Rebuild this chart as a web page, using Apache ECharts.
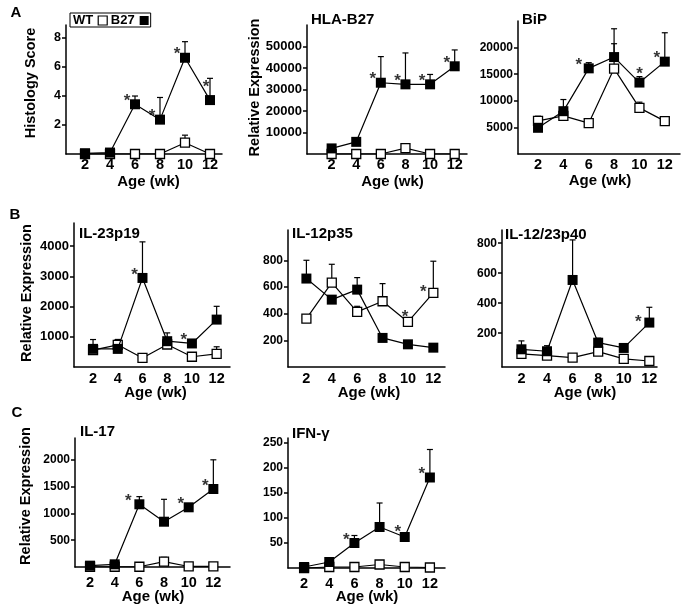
<!DOCTYPE html>
<html><head><meta charset="utf-8">
<script src="https://cdn.jsdelivr.net/npm/echarts@6/dist/echarts.min.js"></script>
<style>html,body{margin:0;padding:0;background:#fff}#c{width:681px;height:614px}</style>
</head><body><div id="c"></div>
<script>
// ---------- data ----------
const ages = [2, 4, 6, 8, 10, 12];
const xTickLabels = [2, 4, 6, 8, 10, 12];

// A: Histology score
const histWT = [0, 0, 0, 0, 0.78, 0];
const histWTErr = [0, 0, 0, 0, 0.52, 0];
const histB27 = [0.05, 0.1, 3.43, 2.37, 6.64, 3.72];
const histB27Err = [0, 0, 0.57, 1.53, 1.11, 1.5];
const histTicks = [2, 4, 6, 8];
const histStarsB27 = [6, 8, 10, 12];

// A: HLA-B27
const hlaWT = [0, 0, 0, 2700, 0, 0];
const hlaWTErr = [0, 0, 0, 1700, 0, 0];
const hlaB27 = [2600, 5650, 33150, 32400, 32400, 40800];
const hlaB27Err = [0, 0, 12150, 14600, 4600, 7600];
const hlaTicks = [10000, 20000, 30000, 40000, 50000];
const hlaStarsB27 = [6, 8, 10, 12];

// A: BiP
const bipWT = [6240, 7170, 5800, 16050, 8670, 6180];
const bipWTErr = [860, 0, 0, 4680, 1070, 0];
const bipB27 = [4925, 8050, 16100, 18220, 13430, 17360];
const bipB27Err = [0, 2190, 1070, 5320, 1120, 5430];
const bipTicks = [5000, 10000, 15000, 20000];
const bipStarsB27 = [6, 10, 12];

// B: IL-23p19
const p19WT = [560, 735, 300, 745, 340, 437];
const p19WTErr = [0, 175, 0, 0, 0, 233];
const p19B27 = [600, 600, 2950, 855, 780, 1570];
const p19B27Err = [310, 310, 1195, 275, 0, 440];
const p19Ticks = [1000, 2000, 3000, 4000];
const p19StarsB27 = [6, 10];

// B: IL-12p35
const p35WT = [363, 633, 413, 493, 338, 555];
const p35WTErr = [30, 137, 42, 132, 20, 238];
const p35B27 = [663, 505, 580, 218, 170, 145];
const p35B27Err = [137, 0, 90, 0, 0, 0];
const p35Ticks = [200, 400, 600, 800];
const p35StarsWT = [10, 12];

// B: IL-12/23p40
const p40WT = [62, 51, 37, 77, 29, 15];
const p40WTErr = [0, 0, 0, 0, 0, 0];
const p40B27 = [93, 80, 555, 137, 102, 271];
const p40B27Err = [56, 37, 267, 30, 0, 102];
const p40Ticks = [200, 400, 600, 800];
const p40StarsB27 = [12];

// C: IL-17
const il17WT = [5, 5, 5, 100, 10, 10];
const il17WTErr = [0, 0, 0, 80, 0, 0];
const il17B27 = [25, 50, 1170, 845, 1114, 1455];
const il17B27Err = [0, 0, 143, 418, 0, 545];
const il17Ticks = [500, 1000, 1500, 2000];
const il17StarsB27 = [6, 10, 12];

// C: IFN-gamma
const ifnWT = [0, 2, 2, 7, 2, 1];
const ifnWTErr = [0, 0, 0, 3, 0, 0];
const ifnB27 = [2, 12, 50, 82, 62, 181];
const ifnB27Err = [0, 0, 15, 48, 0, 56];
const ifnTicks = [50, 100, 150, 200, 250];
const ifnStarsB27 = [6, 10, 12];

// ---------- layout / style ----------
const FONT = '"Liberation Sans", Arial, Helvetica, sans-serif';
const panels = [
  {g:{left:66,top:25,width:156,height:129}, x:[0.48,12.96], y:[0,8.9], ticks:histTicks,
   wt:histWT, wtErr:histWTErr, b27:histB27, b27Err:histB27Err, stars:{B27:histStarsB27}, yFs:12.5, xm:3,
   starOff:{12:[-4,-17]}},
  {g:{left:307,top:25,width:160,height:129}, x:[0,13], y:[0,60000], ticks:hlaTicks,
   wt:hlaWT, wtErr:hlaWTErr, b27:hlaB27, b27Err:hlaB27Err, stars:{B27:hlaStarsB27}, yFs:13, xm:3, starOff:{}},
  {g:{left:518,top:21,width:162,height:133}, x:[0.42,13.2], y:[0,25000], ticks:bipTicks,
   wt:bipWT, wtErr:bipWTErr, b27:bipB27, b27Err:bipB27Err, stars:{B27:bipStarsB27}, yFs:12, xm:3,
   starOff:{6:[-10,-7],10:[0,-12]}},
  {g:{left:74,top:223,width:156,height:144}, x:[0.46,13.08], y:[0,4770], ticks:p19Ticks,
   wt:p19WT, wtErr:p19WTErr, b27:p19B27, b27Err:p19B27Err, stars:{B27:p19StarsB27}, yFs:13, xm:4.5, starOff:{}},
  {g:{left:288,top:230,width:157,height:137}, x:[0.55,12.92], y:[0,1027], ticks:p35Ticks,
   wt:p35WT, wtErr:p35WTErr, b27:p35B27, b27Err:p35B27Err, stars:{WT:p35StarsWT}, yFs:12, xm:4.5,
   starOff:{10:[-3,-9],12:[-10,-5]}},
  {g:{left:502,top:230,width:155,height:137}, x:[0.48,12.6], y:[-25,888], ticks:p40Ticks,
   wt:p40WT, wtErr:p40WTErr, b27:p40B27, b27Err:p40B27Err, stars:{B27:p40StarsB27}, yFs:12, xm:4.5,
   starOff:{12:[-11,-4]}},
  {g:{left:75,top:438,width:155,height:129}, x:[0.78,13.35], y:[0,2407], ticks:il17Ticks,
   wt:il17WT, wtErr:il17WTErr, b27:il17B27, b27Err:il17B27Err, stars:{B27:il17StarsB27}, yFs:12, xm:8.5,
   starOff:{6:[-11,-7]}},
  {g:{left:288,top:438,width:157,height:130}, x:[0.72,13.2], y:[0,260], ticks:ifnTicks,
   wt:ifnWT, wtErr:ifnWTErr, b27:ifnB27, b27Err:ifnB27Err, stars:{B27:ifnStarsB27}, yFs:12, xm:8.5,
   starOff:{10:[-7,-9]}}
];

function errRender(params, api) {
  const x = api.value(0), y = api.value(1), top = api.value(2);
  if (!(top > y)) return null;
  const p0 = api.coord([x, y]), p1 = api.coord([x, top]);
  const st = {stroke: '#000', lineWidth: 1.2};
  return {type: 'group', children: [
    {type: 'line', shape: {x1: p0[0], y1: p0[1], x2: p1[0], y2: p1[1]}, style: st},
    {type: 'line', shape: {x1: p1[0] - 3, y1: p1[1], x2: p1[0] + 3, y2: p1[1]}, style: st}
  ]};
}

const grid = [], xAxis = [], yAxis = [], series = [];
panels.forEach((p, i) => {
  grid.push(Object.assign({containLabel: false}, p.g));
  xAxis.push({
    type: 'value', gridIndex: i, min: p.x[0], max: p.x[1],
    axisLine: {show: true, onZero: false, lineStyle: {color: '#000', width: 1.5}},
    axisTick: {show: false},
    splitLine: {show: false},
    axisLabel: {customValues: xTickLabels, margin: p.xm, color: '#000',
      fontFamily: FONT, fontWeight: 'bold', fontSize: 14.5, formatter: v => String(v)}
  });
  yAxis.push({
    type: 'value', gridIndex: i, min: p.y[0], max: p.y[1],
    axisLine: {show: true, onZero: false, lineStyle: {color: '#000', width: 1.5}},
    axisTick: {show: true, customValues: p.ticks, length: 4, lineStyle: {color: '#000', width: 1.5}},
    splitLine: {show: false},
    axisLabel: {customValues: p.ticks, margin: 5, color: '#000',
      fontFamily: FONT, fontWeight: 'bold', fontSize: p.yFs, formatter: v => String(v)}
  });
  const mk = (vals, errs) => ages.map((a, k) => [a, vals[k], vals[k] + errs[k]]);
  series.push({type: 'custom', xAxisIndex: i, yAxisIndex: i, renderItem: errRender,
    data: mk(p.wt, p.wtErr), encode: {x: 0, y: [1, 2]}, z: 1, silent: true});
  series.push({type: 'custom', xAxisIndex: i, yAxisIndex: i, renderItem: errRender,
    data: mk(p.b27, p.b27Err), encode: {x: 0, y: [1, 2]}, z: 1, silent: true});
  series.push({name: 'WT', type: 'line', xAxisIndex: i, yAxisIndex: i, z: 2,
    data: ages.map((a, k) => [a, p.wt[k]]),
    symbol: 'rect', symbolSize: 9, showAllSymbol: true,
    lineStyle: {color: '#000', width: 1.2},
    itemStyle: {color: '#fff', borderColor: '#000', borderWidth: 1.3}});
  series.push({name: 'B27', type: 'line', xAxisIndex: i, yAxisIndex: i, z: 3,
    data: ages.map((a, k) => [a, p.b27[k]]),
    symbol: 'rect', symbolSize: 10, showAllSymbol: true,
    lineStyle: {color: '#000', width: 1.2},
    itemStyle: {color: '#000', borderColor: '#000', borderWidth: 0}});
  const starData = [];
  Object.keys(p.stars).forEach(grp => {
    const vals = grp === 'WT' ? p.wt : p.b27;
    p.stars[grp].forEach(age => {
      const k = ages.indexOf(age);
      const off = p.starOff[age] || [-8, -7];
      starData.push({value: [age, vals[k]], label: {offset: [off[0], off[1] + 4]}});
    });
  });
  series.push({type: 'scatter', xAxisIndex: i, yAxisIndex: i, z: 5, symbolSize: 0, silent: true,
    data: starData,
    label: {show: true, position: 'inside', formatter: '*', color: '#000',
      fontFamily: FONT, fontWeight: 'bold', fontSize: 17}});
});

function txt(t, x, y, size, opts) {
  opts = opts || {};
  return {type: 'text', x: x, y: y, rotation: opts.rot || 0, silent: true,
    style: {text: t, fill: '#000', font: 'bold ' + size + 'px ' + FONT,
      align: opts.align || 'center', textAlign: opts.align || 'center',
      verticalAlign: 'middle', textVerticalAlign: 'middle'}};
}
const graphic = [
  txt('A', 16, 13, 15), txt('B', 15, 215, 15), txt('C', 17, 413, 15),
  txt('HLA-B27', 311, 20, 15, {align: 'left'}),
  txt('BiP', 522, 20, 15, {align: 'left'}),
  txt('IL-23p19', 79, 234, 15, {align: 'left'}),
  txt('IL-12p35', 292, 234, 15, {align: 'left'}),
  txt('IL-12/23p40', 505, 234.5, 15, {align: 'left'}),
  txt('IL-17', 80, 432, 15, {align: 'left'}),
  txt('IFN-γ', 292, 434, 15, {align: 'left'}),
  txt('Histology Score', 31, 83, 14.5, {rot: Math.PI / 2}),
  txt('Relative Expression', 255, 87.5, 14.5, {rot: Math.PI / 2}),
  txt('Relative Expression', 26.5, 293, 14.5, {rot: Math.PI / 2}),
  txt('Relative Expression', 26, 496, 14.5, {rot: Math.PI / 2}),
  txt('Age (wk)', 148.5, 182, 15), txt('Age (wk)', 392.5, 182, 15), txt('Age (wk)', 600, 181, 15),
  txt('Age (wk)', 155.5, 393, 15), txt('Age (wk)', 369, 393, 15), txt('Age (wk)', 585, 393, 15),
  txt('Age (wk)', 153, 597, 15), txt('Age (wk)', 367, 597, 15)
];

const chart = echarts.init(document.getElementById('c'), null, {renderer: 'canvas'});
chart.setOption({
  animation: false,
  backgroundColor: '#fff',
  legend: {
    left: 70, top: 13, orient: 'horizontal', align: 'right', selectedMode: false,
    borderColor: '#000', borderWidth: 1, padding: [1, 2, 0, 3], itemGap: 3,
    itemWidth: 9, itemHeight: 9,
    textStyle: {fontFamily: FONT, fontWeight: 'bold', fontSize: 13, color: '#000', lineHeight: 12},
    data: [
      {name: 'WT', icon: 'rect', itemStyle: {color: '#fff', borderColor: '#000', borderWidth: 1.2}},
      {name: 'B27', icon: 'rect', itemStyle: {color: '#000', borderColor: '#000', borderWidth: 0}}
    ]
  },
  grid: grid, xAxis: xAxis, yAxis: yAxis, series: series, graphic: graphic
});
</script></body></html>
